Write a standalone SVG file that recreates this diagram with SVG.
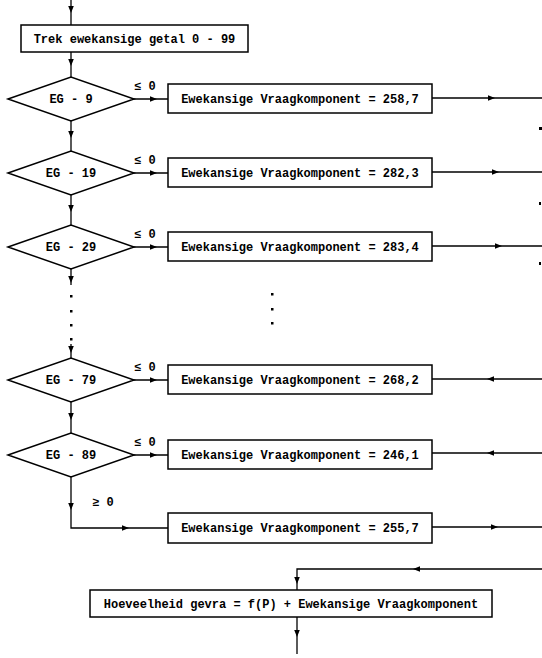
<svg xmlns="http://www.w3.org/2000/svg" width="542" height="658" viewBox="0 0 542 658">
<style>
  .bg{fill:#fff}
  .box{fill:#fff;stroke:#000;stroke-width:1.5}
  .ln{fill:none;stroke:#000;stroke-width:1.3}
  .t{font-family:"Liberation Mono","DejaVu Sans Mono",monospace;font-size:12px;font-weight:bold;fill:#000}
  .c{text-anchor:middle}
  .dot{fill:#000}
</style>
<defs>
  <path id="ah" d="M3,0 L-4,-2.8 L-4,2.8 Z" fill="#000"/>
</defs>
<rect class="bg" x="0" y="0" width="542" height="658"/>

<g id="connectors">
  <!-- main column -->
  <path class="ln" d="M71,0 V25"/>
  <path class="ln" d="M71,52 V77"/>
  <path class="ln" d="M71,121 V151"/>
  <path class="ln" d="M71,195 V225"/>
  <path class="ln" d="M71,269 V285"/>
  <path class="ln" d="M71,344 V358"/>
  <path class="ln" d="M71,402 V433"/>
  <path class="ln" d="M71,477 V528 H168"/>
  <use href="#ah" transform="translate(71,10) rotate(90)"/>
  <use href="#ah" transform="translate(71,63) rotate(90)"/>
  <use href="#ah" transform="translate(71,135) rotate(90)"/>
  <use href="#ah" transform="translate(71,209) rotate(90)"/>
  <use href="#ah" transform="translate(71,280) rotate(90)"/>
  <use href="#ah" transform="translate(71,350) rotate(90)"/>
  <use href="#ah" transform="translate(71,417) rotate(90)"/>
  <use href="#ah" transform="translate(71,507) rotate(90)"/>
  <use href="#ah" transform="translate(126,528)"/>
  <rect class="dot" x="70" y="295" width="2.5" height="2.5"/>
  <rect class="dot" x="70" y="310" width="2.5" height="2.5"/>
  <rect class="dot" x="70" y="324" width="2.5" height="2.5"/>
  <rect class="dot" x="70" y="338" width="2.5" height="2.5"/>

  <!-- diamond to box -->
  <path class="ln" d="M132,99 H168"/>
  <path class="ln" d="M132,173 H168"/>
  <path class="ln" d="M132,247 H168"/>
  <path class="ln" d="M132,380 H168"/>
  <path class="ln" d="M132,455 H168"/>
  <use href="#ah" transform="translate(154,99)"/>
  <use href="#ah" transform="translate(154,173)"/>
  <use href="#ah" transform="translate(154,247)"/>
  <use href="#ah" transform="translate(154,380)"/>
  <use href="#ah" transform="translate(154,455)"/>

  <!-- box to right edge -->
  <path class="ln" d="M432,98 H542"/>
  <path class="ln" d="M432,172 H542"/>
  <path class="ln" d="M432,246 H542"/>
  <path class="ln" d="M432,379 H542"/>
  <path class="ln" d="M432,453 H542"/>
  <path class="ln" d="M432,527 H542"/>
  <use href="#ah" transform="translate(492,98)"/>
  <use href="#ah" transform="translate(496,172)"/>
  <use href="#ah" transform="translate(499,246)"/>
  <use href="#ah" transform="translate(490,379) rotate(180)"/>
  <use href="#ah" transform="translate(490,453) rotate(180)"/>
  <use href="#ah" transform="translate(495,527)"/>
  <rect class="dot" x="539" y="127" width="3" height="3"/>
  <rect class="dot" x="539" y="202" width="2" height="3"/>
  <rect class="dot" x="539" y="262" width="2" height="3"/>

  <!-- middle dots -->
  <rect class="dot" x="271" y="293" width="2.5" height="2.5"/>
  <rect class="dot" x="271" y="308" width="2.5" height="2.5"/>
  <rect class="dot" x="271" y="322" width="2.5" height="2.5"/>

  <!-- return to bottom box -->
  <path class="ln" d="M542,569 H297 V590"/>
  <use href="#ah" transform="translate(416,569) rotate(180)"/>
  <use href="#ah" transform="translate(297,581) rotate(90)"/>
  <path class="ln" d="M297,617 V654"/>
  <use href="#ah" transform="translate(297,634) rotate(90)"/>
</g>

<g id="start">
  <rect class="box" x="21" y="25" width="227" height="27"/>
  <text class="t c" x="134.5" y="43">Trek ewekansige getal 0 - 99</text>
</g>

<g id="d9">
  <polygon class="box" points="8,99 71,77 134,99 71,121"/>
  <text class="t c" x="71" y="103">EG - 9</text>
  <text class="t" x="134" y="90">≤ 0</text>
</g>
<g id="b9">
  <rect class="box" x="168" y="84" width="264" height="29"/>
  <text class="t c" x="300" y="103">Ewekansige Vraagkomponent = 258,7</text>
</g>

<g id="d19">
  <polygon class="box" points="8,173 71,151 134,173 71,195"/>
  <text class="t c" x="71" y="177">EG - 19</text>
  <text class="t" x="134" y="164">≤ 0</text>
</g>
<g id="b19">
  <rect class="box" x="168" y="158" width="264" height="29"/>
  <text class="t c" x="300" y="177">Ewekansige Vraagkomponent = 282,3</text>
</g>

<g id="d29">
  <polygon class="box" points="8,247 71,225 134,247 71,269"/>
  <text class="t c" x="71" y="251">EG - 29</text>
  <text class="t" x="134" y="238">≤ 0</text>
</g>
<g id="b29">
  <rect class="box" x="168" y="232" width="264" height="29"/>
  <text class="t c" x="300" y="251">Ewekansige Vraagkomponent = 283,4</text>
</g>

<g id="d79">
  <polygon class="box" points="8,380 71,358 134,380 71,402"/>
  <text class="t c" x="71" y="384">EG - 79</text>
  <text class="t" x="134" y="371">≤ 0</text>
</g>
<g id="b79">
  <rect class="box" x="168" y="365" width="264" height="29"/>
  <text class="t c" x="300" y="384">Ewekansige Vraagkomponent = 268,2</text>
</g>

<g id="d89">
  <polygon class="box" points="8,455 71,433 134,455 71,477"/>
  <text class="t c" x="71" y="459">EG - 89</text>
  <text class="t" x="134" y="446">≤ 0</text>
  <text class="t" x="92" y="506">≥ 0</text>
</g>
<g id="b89">
  <rect class="box" x="168" y="440" width="264" height="29"/>
  <text class="t c" x="300" y="459">Ewekansige Vraagkomponent = 246,1</text>
</g>

<g id="bElse">
  <rect class="box" x="168" y="513" width="264" height="30"/>
  <text class="t c" x="300" y="532">Ewekansige Vraagkomponent = 255,7</text>
</g>

<g id="result">
  <rect class="box" x="90" y="590" width="402" height="27"/>
  <text class="t c" x="291" y="608">Hoeveelheid gevra = f(P) + Ewekansige Vraagkomponent</text>
</g>
</svg>
